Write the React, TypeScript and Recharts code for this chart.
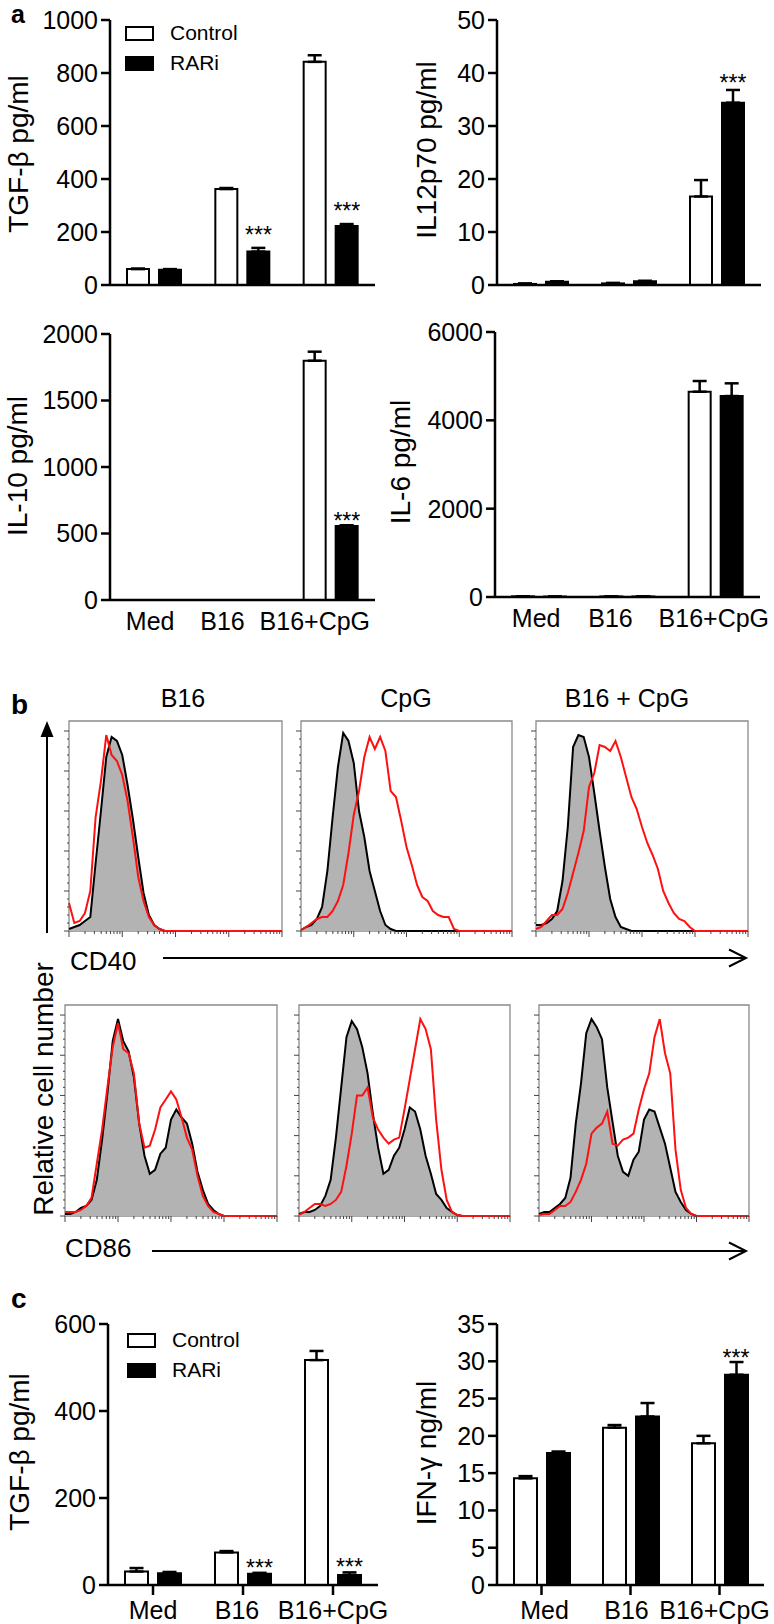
import React from 'react';
import {
  BarChart,
  Bar,
  XAxis,
  YAxis,
  ErrorBar,
  ReferenceDot,
  Legend,
  ComposedChart,
  Area,
  Line,
  ReferenceArea,
} from 'recharts';

const FONT = '"Liberation Sans", Arial, Helvetica, sans-serif';

// ---- shared categories ----
const groups = ['Med', 'B16', 'B16+CpG'];
const seriesNames = ['Control', 'RARi'];

// ---- panel a ----
const tgfA_control = [60, 362, 842];
const tgfA_controlErr = [2, 4, 25];
const tgfA_rari = [58, 126, 223];
const tgfA_rariErr = [2, 14, 7];
const tgfA_sig = ['', '***', '***'];
const tgfA_ticks = [0, 200, 400, 600, 800, 1000];

const il12_control = [0.2, 0.3, 16.7];
const il12_controlErr = [0.1, 0.1, 3.1];
const il12_rari = [0.6, 0.7, 34.4];
const il12_rariErr = [0.1, 0.1, 2.4];
const il12_sig = ['', '', '***'];
const il12_ticks = [0, 10, 20, 30, 40, 50];

const il10_control = [0, 0, 1799];
const il10_controlErr = [0, 0, 68];
const il10_rari = [0, 0, 556];
const il10_rariErr = [0, 0, 6];
const il10_sig = ['', '', '***'];
const il10_ticks = [0, 500, 1000, 1500, 2000];

const il6_control = [15, 12, 4648];
const il6_controlErr = [0, 0, 242];
const il6_rari = [10, 14, 4550];
const il6_rariErr = [0, 0, 288];
const il6_ticks = [0, 2000, 4000, 6000];

// ---- panel c ----
const tgfC_control = [31, 75, 517];
const tgfC_controlErr = [8, 3, 21];
const tgfC_rari = [27, 26, 23];
const tgfC_rariErr = [3, 2, 6];
const tgfC_sig = ['', '***', '***'];
const tgfC_ticks = [0, 200, 400, 600];

const ifn_control = [14.3, 21.1, 19.0];
const ifn_controlErr = [0.3, 0.35, 1.0];
const ifn_rari = [17.7, 22.6, 28.2];
const ifn_rariErr = [0.2, 1.8, 1.7];
const ifn_sig = ['', '', '***'];
const ifn_ticks = [0, 5, 10, 15, 20, 25, 30, 35];

// ---- panel b: histograms (fluorescence channel 0-100, % of max) ----
const histTitles = ['B16', 'CpG', 'B16 + CpG'];
const markers = ['CD40', 'CD86'];
const histU = [
  0, 2.5, 5, 7.5, 10, 12.5, 15, 17.5, 20, 22.5, 25, 27.5, 30, 32.5, 35, 37.5, 40, 42.5, 45, 47.5,
  50, 52.5, 55, 57.5, 60, 62.5, 65, 67.5, 70, 72.5, 75, 77.5, 80, 82.5, 85, 87.5, 90, 92.5, 95, 97.5, 100,
];

const cd40B16Ctrl = [1, 2, 3, 5, 7, 34, 60, 87, 97, 95, 88, 73, 56, 37, 19, 8, 3, 1, 0, 0, 0, 0, 0, 0, 0, 0, 0, 0, 0, 0, 0, 0, 0, 0, 0, 0, 0, 0, 0, 0, 0];
const cd40B16Red = [14, 4, 5, 9, 20, 57, 75, 98, 88, 85, 78, 65, 47, 27, 15, 7, 3, 1, 0, 0, 0, 0, 0, 0, 0, 0, 0, 0, 0, 0, 0, 0, 0, 0, 0, 0, 0, 0, 0, 0, 0];
const cd40CpgCtrl = [0.5, 2, 3, 6, 12, 30, 57, 82, 99, 95, 84, 60, 47, 30, 20, 10, 3, 1, 0, 0, 0, 0, 0, 0, 0, 0, 0, 0, 0, 0, 0, 0, 0, 0, 0, 0, 0, 0, 0, 0, 0];
const cd40CpgRed = [0.5, 2, 4, 6, 7, 7, 10, 15, 23, 39, 58, 70, 87, 97, 91, 97, 90, 70, 67, 55, 42, 33, 23, 17, 15, 10, 8, 7, 7, 1, 0, 0, 0, 0, 0, 0, 0, 0, 0, 0, 0];
const cd40ComboCtrl = [3, 3, 4, 6, 10, 25, 52, 92, 98, 97, 87, 69, 50, 32, 16, 7, 2, 1, 0, 0, 0, 0, 0, 0, 0, 0, 0, 0, 0, 0, 0, 0, 0, 0, 0, 0, 0, 0, 0, 0, 0];
const cd40ComboRed = [1, 2, 5, 8, 8, 11, 19, 29, 39, 50, 72, 79, 93, 92, 90, 95, 87, 77, 67, 61, 52, 44, 38, 31, 20, 14, 9, 6, 5, 2, 0, 0, 0, 0, 0, 0, 0, 0, 0, 0, 0];

const cd86B16Ctrl = [1, 1, 2, 4, 5, 8, 18, 38, 61, 87, 98, 87, 82, 69, 46, 30, 21, 23, 31, 34, 48, 53, 49, 46, 36, 22, 13, 6, 3, 1, 0, 0, 0, 0, 0, 0, 0, 0, 0, 0, 0];
const cd86B16Red = [2, 2, 2, 3, 5, 9, 26, 43, 64, 84, 96, 83, 81, 71, 46, 34, 35, 43, 54, 58, 62, 58, 49, 39, 33, 20, 10, 5, 2, 1, 0, 0, 0, 0, 0, 0, 0, 0, 0, 0, 0];
const cd86CpgCtrl = [1, 2, 2, 3, 5, 10, 18, 39, 64, 89, 97, 93, 84, 71, 51, 34, 21, 23, 30, 34, 43, 54, 52, 43, 30, 21, 11, 8, 4, 2, 0.5, 0, 0, 0, 0, 0, 0, 0, 0, 0, 0];
const cd86CpgRed = [0.5, 2, 4, 6, 6, 5, 6, 8, 12, 25, 41, 60, 60, 64, 49, 43, 39, 36, 38, 39, 53, 68, 83, 98, 93, 83, 48, 23, 8, 2, 0.5, 0, 0, 0, 0, 0, 0, 0, 0, 0, 0];
const cd86ComboCtrl = [1, 2, 2, 4, 6, 9, 19, 46, 66, 91, 98, 94, 88, 64, 47, 30, 22, 20, 28, 32, 48, 53, 52, 44, 36, 24, 12, 7, 3, 1, 0, 0, 0, 0, 0, 0, 0, 0, 0, 0, 0];
const cd86ComboRed = [0.5, 1, 1, 3, 5, 5, 7, 12, 18, 26, 41, 44, 46, 52, 36, 35, 38, 39, 41, 53, 63, 71, 89, 98, 81, 71, 33, 13, 4, 1, 0, 0, 0, 0, 0, 0, 0, 0, 0, 0, 0];

// log-decade axis decoration for the histograms
const histDecades = [0, 25, 50, 75];
const histMinor = [7.5, 11.9, 15.1, 17.5, 19.5, 21.1, 22.6, 23.9];
const histMajorX = [0, 25, 50, 75, 100];
const histXTicks = [...histMajorX, ...histDecades.flatMap((d) => histMinor.map((m) => d + m))].sort((a, b) => a - b);
const histYTicks = [0, 4, 8, 12, 16, 20, 24, 28, 32, 36, 40, 44, 48, 52, 56, 60, 64, 68, 72, 76, 80, 84, 88, 92, 96, 100];

const AXIS = { stroke: '#000', strokeWidth: 2.5 };

const XLabel = (props: any) => {
  const { x, y, payload, index, shift } = props;
  const dx = shift ? shift[index] || 0 : 0;
  return (
    <text x={x + dx} y={y} dy="0.71em" textAnchor="middle" fontSize={25} fontFamily={FONT} fill="#000">
      {payload.value}
    </text>
  );
};

const YLabel = (props: any) => {
  const { x, y, payload } = props;
  return (
    <text x={x} y={y} dy="0.355em" textAnchor="end" fontSize={25} fontFamily={FONT} fill="#000">
      {payload.value}
    </text>
  );
};

const LegendBox = () => (
  <div style={{ fontFamily: FONT, fontSize: 21, color: '#000' }}>
    {seriesNames.map((n, i) => (
      <div key={n} style={{ display: 'flex', alignItems: 'center', height: 30 }}>
        <span
          style={{
            display: 'inline-block',
            width: 25,
            height: 11,
            border: '2px solid #000',
            background: i ? '#000' : '#fff',
            marginRight: 16,
          }}
        />
        {n}
      </div>
    ))}
  </div>
);

type BarPanelProps = {
  x0: number;
  x1: number;
  y0: number;
  y1: number;
  control: number[];
  controlErr: number[];
  rari: number[];
  rariErr: number[];
  sig?: string[];
  yMax: number;
  yTicks: number[];
  labels?: boolean;
  tickMarks?: boolean;
  shift?: number[];
  legendAt?: [number, number];
  barSize: number;
  barGap: number;
  starDy?: number;
};

function BarPanel(p: BarPanelProps) {
  const data = groups.map((g, i) => ({
    group: g,
    control: p.control[i],
    controlErr: [0, p.controlErr[i]],
    rari: p.rari[i],
    rariErr: [0, p.rariErr[i]],
  }));
  const left = p.x0 - 100;
  const top = p.y0 - 15;
  const width = p.x1 - left + 20;
  const height = p.y1 - top + 45;
  const offset = (p.barSize + p.barGap) / 2;
  const starDy = p.starDy ?? 0;
  return (
    <div style={{ position: 'absolute', left, top }}>
      <BarChart
        width={width}
        height={height}
        data={data}
        margin={{ top: 15, right: 20, left: 30, bottom: 5 }}
        barSize={p.barSize}
        barGap={p.barGap}
      >
        <XAxis
          dataKey="group"
          height={40}
          axisLine={AXIS}
          tickLine={p.tickMarks ? AXIS : false}
          tickSize={p.tickMarks ? 10 : 6}
          tickMargin={6}
          tick={p.labels ? <XLabel shift={p.shift} /> : false}
          interval={0}
        />
        <YAxis
          type="number"
          domain={[0, p.yMax]}
          ticks={p.yTicks}
          width={70}
          axisLine={AXIS}
          tickLine={AXIS}
          tickSize={9}
          tickMargin={3}
          tick={<YLabel />}
          interval={0}
        />
        <Bar dataKey="control" name={seriesNames[0]} fill="#fff" stroke="#000" strokeWidth={2} isAnimationActive={false}>
          <ErrorBar dataKey="controlErr" width={7} stroke="#000" strokeWidth={2.5} direction="y" />
        </Bar>
        <Bar dataKey="rari" name={seriesNames[1]} fill="#000" stroke="#000" strokeWidth={2} isAnimationActive={false}>
          <ErrorBar dataKey="rariErr" width={7} stroke="#000" strokeWidth={2.5} direction="y" />
        </Bar>
        {(p.sig || []).map((s, i) =>
          s ? (
            <ReferenceDot
              key={i}
              x={groups[i]}
              y={p.rari[i] + p.rariErr[i]}
              r={0}
              fill="none"
              stroke="none"
              ifOverflow="visible"
              label={(lp: any) => {
                const vb = lp.viewBox || {};
                const cx = (vb.x ?? 0) + (vb.width ?? 0) / 2 + offset;
                const cy = (vb.y ?? 0) + (vb.height ?? 0) / 2;
                return (
                  <text x={cx} y={cy + starDy} textAnchor="middle" fontSize={23} fontFamily={FONT} fill="#000">
                    {s}
                  </text>
                );
              }}
            />
          ) : null,
        )}
        {p.legendAt && (
          <Legend
            layout="vertical"
            align="center"
            verticalAlign="middle"
            wrapperStyle={{ left: p.legendAt[0] - left, top: p.legendAt[1] - top, width: 'auto', height: 'auto' }}
            content={() => <LegendBox />}
          />
        )}
      </BarChart>
    </div>
  );
}

const HistXTick = (props: any) => {
  const { x, y, payload } = props;
  const major = histMajorX.includes(payload.value);
  return <line x1={x} y1={y} x2={x} y2={y + (major ? 6 : 3)} stroke="#444" strokeWidth={1} />;
};

const HistYTick = (props: any) => {
  const { x, y, payload } = props;
  const major = payload.value % 20 === 0;
  return <line x1={x} y1={y} x2={x - (major ? 5 : 2)} y2={y} stroke="#444" strokeWidth={1} />;
};

type HistProps = { x0: number; x1: number; y0: number; y1: number; ctrl: number[]; red: number[] };

function Histogram({ x0, x1, y0, y1, ctrl, red }: HistProps) {
  const data = histU.map((u, i) => ({ u, ctrl: ctrl[i] ?? 0, red: red[i] ?? 0 }));
  const width = x1 - x0 + 18;
  const height = y1 - y0 + 16;
  return (
    <div style={{ position: 'absolute', left: x0 - 12, top: y0 - 4 }}>
      <ComposedChart width={width} height={height} data={data} margin={{ top: 4, right: 6, left: 2, bottom: 2 }}>
        <XAxis
          dataKey="u"
          type="number"
          domain={[0, 100]}
          ticks={histXTicks}
          height={10}
          axisLine={false}
          tickLine={false}
          tickSize={0}
          tickMargin={0}
          tick={<HistXTick />}
          interval={0}
        />
        <YAxis
          type="number"
          domain={[0, 105]}
          ticks={histYTicks}
          width={10}
          axisLine={false}
          tickLine={false}
          tickSize={0}
          tickMargin={0}
          tick={<HistYTick />}
          interval={0}
        />
        <ReferenceArea x1={0} x2={100} y1={0} y2={105} fill="none" stroke="#8a8a8a" strokeWidth={1.3} ifOverflow="visible" />
        <Area
          type="linear"
          dataKey="ctrl"
          stroke="#000"
          strokeWidth={2}
          fill="#b3b3b3"
          fillOpacity={1}
          dot={false}
          activeDot={false}
          isAnimationActive={false}
        />
        <Line type="linear" dataKey="red" stroke="#ff1010" strokeWidth={2} dot={false} activeDot={false} isAnimationActive={false} />
      </ComposedChart>
    </div>
  );
}

const histRows = [
  {
    y0: 721,
    y1: 931,
    boxes: [
      [69, 282],
      [301, 512],
      [536, 748],
    ],
    series: [
      [cd40B16Ctrl, cd40B16Red],
      [cd40CpgCtrl, cd40CpgRed],
      [cd40ComboCtrl, cd40ComboRed],
    ],
  },
  {
    y0: 1005,
    y1: 1216,
    boxes: [
      [65, 277],
      [299, 510],
      [539, 749],
    ],
    series: [
      [cd86B16Ctrl, cd86B16Red],
      [cd86CpgCtrl, cd86CpgRed],
      [cd86ComboCtrl, cd86ComboRed],
    ],
  },
];

const YTitle = ({ x, y, text }: { x: number; y: number; text: string }) => (
  <text transform={`translate(${x},${y}) rotate(-90)`} textAnchor="middle" fontSize={28} fill="#000">
    {text}
  </text>
);

export default function App() {
  return (
    <div style={{ position: 'absolute', left: 0, top: 0, width: 774, height: 1624, background: '#fff', overflow: 'hidden' }}>
      {/* panel a */}
      <BarPanel
        x0={110} x1={375} y0={20} y1={285}
        control={tgfA_control} controlErr={tgfA_controlErr}
        rari={tgfA_rari} rariErr={tgfA_rariErr} sig={tgfA_sig}
        yMax={1000} yTicks={tgfA_ticks}
        barSize={22} barGap={10} starDy={-5}
        legendAt={[125, 18]}
      />
      <BarPanel
        x0={497} x1={761} y0={20} y1={285}
        control={il12_control} controlErr={il12_controlErr}
        rari={il12_rari} rariErr={il12_rariErr} sig={il12_sig}
        yMax={50} yTicks={il12_ticks}
        barSize={22} barGap={10} starDy={1}
      />
      <BarPanel
        x0={110} x1={375} y0={334} y1={600}
        control={il10_control} controlErr={il10_controlErr}
        rari={il10_rari} rariErr={il10_rariErr} sig={il10_sig}
        yMax={2000} yTicks={il10_ticks}
        barSize={22} barGap={10} starDy={4}
        labels shift={[-4, -20, -16]}
      />
      <BarPanel
        x0={495} x1={760} y0={332} y1={597}
        control={il6_control} controlErr={il6_controlErr}
        rari={il6_rari} rariErr={il6_rariErr}
        yMax={6000} yTicks={il6_ticks}
        barSize={22} barGap={10}
        labels shift={[-3, -17, -2]}
      />

      {/* panel b */}
      {histRows.map((row, r) =>
        row.boxes.map((b, c) => (
          <Histogram
            key={`${r}-${c}`}
            x0={b[0]} x1={b[1]} y0={row.y0} y1={row.y1}
            ctrl={row.series[c][0]} red={row.series[c][1]}
          />
        )),
      )}

      {/* panel c */}
      <BarPanel
        x0={108} x1={378} y0={1324} y1={1585}
        control={tgfC_control} controlErr={tgfC_controlErr}
        rari={tgfC_rari} rariErr={tgfC_rariErr} sig={tgfC_sig}
        yMax={600} yTicks={tgfC_ticks}
        barSize={23} barGap={10} starDy={3}
        labels tickMarks shift={[0, -6, 0]}
        legendAt={[127, 1325]}
      />
      <BarPanel
        x0={497} x1={764} y0={1324} y1={1585}
        control={ifn_control} controlErr={ifn_controlErr}
        rari={ifn_rari} rariErr={ifn_rariErr} sig={ifn_sig}
        yMax={35} yTicks={ifn_ticks}
        barSize={23} barGap={10} starDy={4}
        labels tickMarks shift={[3, -4, -5]}
      />

      <svg width={774} height={1624} style={{ position: 'absolute', left: 0, top: 0, pointerEvents: 'none' }} fontFamily={FONT}>
        <text x={11} y={23} fontSize={25} fontWeight="bold">a</text>
        <text x={11} y={714} fontSize={28} fontWeight="bold">b</text>
        <text x={11} y={1308} fontSize={28} fontWeight="bold">c</text>

        <YTitle x={28} y={154} text="TGF-β pg/ml" />
        <YTitle x={436} y={150} text="IL12p70 pg/ml" />
        <YTitle x={27} y={466} text="IL-10 pg/ml" />
        <YTitle x={410} y={462} text="IL-6 pg/ml" />
        <YTitle x={29} y={1452} text="TGF-β pg/ml" />
        <YTitle x={436} y={1453} text="IFN-γ ng/ml" />

        {histTitles.map((t, i) => (
          <text key={t} x={[183, 406, 627][i]} y={707} textAnchor="middle" fontSize={25}>
            {t}
          </text>
        ))}

        <line x1={47} y1={933} x2={47} y2={734} stroke="#000" strokeWidth={2} />
        <polygon points="40.5,737 53.5,737 47,721" fill="#000" />
        <text transform="translate(53,1089) rotate(-90)" textAnchor="middle" fontSize={28}>
          Relative cell number
        </text>

        <text x={70} y={970} fontSize={26}>{markers[0]}</text>
        <line x1={163} y1={958} x2={746} y2={958} stroke="#000" strokeWidth={2} />
        <polyline points="729,949.5 746,958 729,966.5" fill="none" stroke="#000" strokeWidth={2} />

        <text x={65} y={1257} fontSize={26}>{markers[1]}</text>
        <line x1={152} y1={1251} x2={746} y2={1251} stroke="#000" strokeWidth={2} />
        <polyline points="729,1242.5 746,1251 729,1259.5" fill="none" stroke="#000" strokeWidth={2} />
      </svg>
    </div>
  );
}
